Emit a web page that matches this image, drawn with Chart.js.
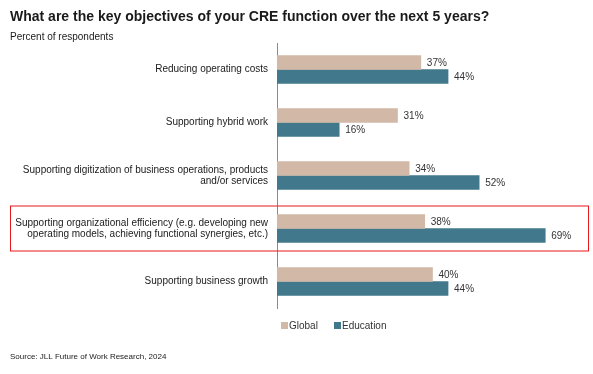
<!DOCTYPE html>
<html>
<head>
<meta charset="utf-8">
<script src="https://cdn.jsdelivr.net/npm/chart.js@4"></script>
<style>
  html, body { margin: 0; padding: 0; background: #fff; }
  #wrap { width: 593px; height: 374px; position: relative; }
</style>
</head>
<body>
<div id="wrap"><canvas id="myChart"></canvas></div>
<script>
var labels = [
  "Reducing operating costs",
  "Supporting hybrid work",
  ["Supporting digitization of business operations, products", "and/or services"],
  ["Supporting organizational efficiency (e.g. developing new", "operating models, achieving functional synergies, etc.)"],
  "Supporting business growth"
];
var globalData = [37, 31, 34, 38, 40];
var educationData = [44, 16, 52, 69, 44];
var highlightIndex = 3;

var FONT = "'Liberation Sans', Arial, sans-serif";

var decor = {
  id: "decor",
  afterDraw: function (chart) {
    var ctx = chart.ctx;
    var y = chart.scales.y;
    ctx.save();
    // title + subtitle
    ctx.fillStyle = "#1a1a1a";
    ctx.textBaseline = "middle";
    ctx.textAlign = "left";
    ctx.font = "bold 14px " + FONT;
    ctx.fillText("What are the key objectives of your CRE function over the next 5 years?", 10, 17);
    ctx.font = "10px " + FONT;
    ctx.fillText("Percent of respondents", 10, 37);
    ctx.font = "8px " + FONT;
    ctx.fillText("Source: JLL Future of Work Research, 2024", 10, 357);

    // value labels
    ctx.font = "10px " + FONT;
    ctx.fillStyle = "#333";
    chart.data.datasets.forEach(function (ds, i) {
      chart.getDatasetMeta(i).data.forEach(function (bar, j) {
        ctx.fillText(ds.data[j] + "%", bar.x + 6, bar.y + 1);
      });
    });

    // legend
    var items = [["Global", "#d2b8a6", 281], ["Education", "#41788b", 334]];
    items.forEach(function (it) {
      ctx.fillStyle = it[1];
      ctx.fillRect(it[2], 322, 7, 7);
      ctx.fillStyle = "#333";
      ctx.fillText(it[0], it[2] + 8, 326);
    });

    // highlight box
    var cy = y.getPixelForValue(highlightIndex);
    ctx.strokeStyle = "#e8191c";
    ctx.lineWidth = 1;
    ctx.strokeRect(10.5, cy - 22.5, 578, 45);
    ctx.restore();
  }
};

new Chart(document.getElementById("myChart"), {
  type: "bar",
  data: {
    labels: labels,
    datasets: [
      {
        label: "Global",
        backgroundColor: "#d2b8a6",
        data: globalData,
        barThickness: 14,
      },
      {
        label: "Education",
        backgroundColor: "#41788b",
        data: educationData,
        barThickness: 14,
      },
    ],
  },
  plugins: [decor],
  options: {
    indexAxis: "y",
    responsive: true,
    maintainAspectRatio: false,
    animation: false,
    layout: { padding: { top: 43, bottom: 66, left: 0, right: 5 } },
    plugins: {
      legend: { display: false },
      tooltip: { enabled: false },
    },
    scales: {
      x: {
        display: false,
        min: 0,
        max: 80,
      },
      y: {
        grid: { display: false },
        border: { display: true, color: "#8a8a8a", width: 1 },
        ticks: {
          color: "#1a1a1a",
          padding: 1,
          font: { family: FONT, size: 10, lineHeight: 1.1 },
        },
        afterFit: function (scale) { scale.width = 277; },
      },
    },
  },
});
</script>
</body>
</html>
